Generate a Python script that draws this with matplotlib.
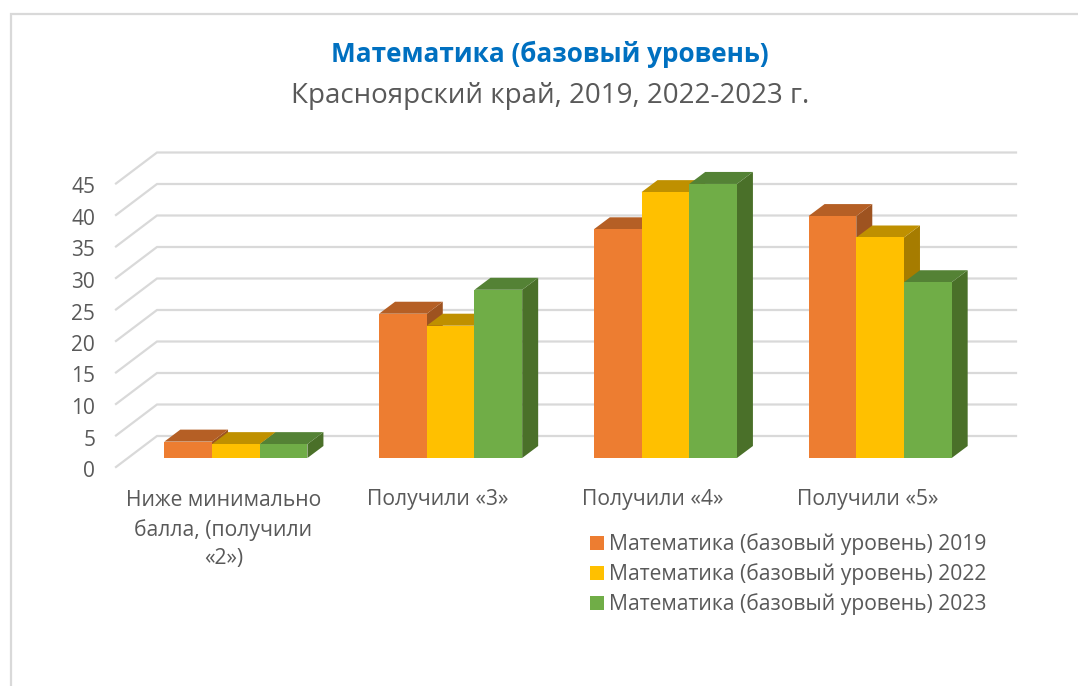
import matplotlib
matplotlib.use("Agg")
import matplotlib.pyplot as plt
from matplotlib.patches import Patch
from matplotlib.transforms import ScaledTranslation
import numpy as np

plt.rcParams['font.family'] = ['Open Sans', 'DejaVu Sans']

# data
categories = ["Ниже минимально\nбалла, (получили\n«2»)", "Получили «3»", "Получили «4»", "Получили «5»"]
series_names = ["Математика (базовый уровень) 2019",
                "Математика (базовый уровень) 2022",
                "Математика (базовый уровень) 2023"]
values_2019 = [2.6, 22.9, 36.3, 38.4]
values_2022 = [2.2, 21.0, 42.2, 35.0]
values_2023 = [2.2, 26.7, 43.5, 27.9]
y_ticks = [0, 5, 10, 15, 20, 25, 30, 35, 40, 45]

colors = ['#ED7D31', '#FFC000', '#70AD47']
top_colors = ['#B55F25', '#BF9000', '#548235']
side_colors = ['#9E5320', '#A67C00', '#4A7029']

W, H = 1078, 686
fig = plt.figure(figsize=(W / 100, H / 100), dpi=100)
fig.patch.set_facecolor('white')

# front plane of the fake 3d box, in pixels
left, right, y0, y45 = 116, 975, 467, 183.5
ax = fig.add_axes([left / W, 1 - y0 / H, (right - left) / W, (y0 - y45) / H])
ax.set_xlim(-0.5, 3.5)
ax.set_ylim(0, 45)

px_x = (right - left) / 4
px_y = (y0 - y45) / 45

# depth of the box and of the bars
box_dx, box_dy = 41 / px_x, 31 / px_y
shift_x, shift_y = 12.5 / px_x, 9 / px_y
depth_x, depth_y = 16 / px_x, 12 / px_y
bar_w = 47.7 / px_x

for t in y_ticks:
    ax.plot([-0.5, -0.5 + box_dx, 3.5 + box_dx], [t, t + box_dy, t + box_dy],
            color='#D9D9D9', lw=1.6, clip_on=False, zorder=1, solid_joinstyle='miter')

all_values = [values_2019, values_2022, values_2023]
for i in range(len(categories)):
    for s in range(3):
        v = all_values[s][i]
        x0 = i + shift_x + (s - 1.5) * bar_w
        x1 = x0 + bar_w
        b = shift_y
        top = b + v
        z = 2 + s * 0.1
        # side
        ax.fill([x1, x1 + depth_x, x1 + depth_x, x1],
                [b, b + depth_y, top + depth_y, top],
                color=side_colors[s], lw=0, clip_on=False, zorder=z)
        # top
        ax.fill([x0, x0 + depth_x, x1 + depth_x, x1],
                [top, top + depth_y, top + depth_y, top],
                color=top_colors[s], lw=0, clip_on=False, zorder=z)
        # front
        ax.bar(x0, v, width=bar_w, bottom=b, align='edge', color=colors[s],
               lw=0, clip_on=False, zorder=z + 0.01)

for sp in ax.spines.values():
    sp.set_visible(False)
ax.set_yticks(y_ticks)
ax.set_xticks(range(len(categories)))
ax.set_xticklabels(categories, linespacing=1.49)
ax.tick_params(axis='y', length=0, pad=15, labelsize=15, labelcolor='#595959')
ax.tick_params(axis='x', length=0, pad=16.2, labelsize=15.2, labelcolor='#595959')

# tick numbers sit a little lower than the gridline ends
down = ScaledTranslation(0, -2 / 100, fig.dpi_scale_trans)
for lab in ax.get_yticklabels():
    lab.set_transform(lab.get_transform() + down)

handles = [Patch(color=c, lw=0) for c in colors]
fig.legend(handles, series_names, loc='upper left',
           bbox_to_anchor=(586 / W, 1 - 529 / H), frameon=False, fontsize=15.2,
           labelcolor='#595959', handlelength=0.66, handleheight=0.66,
           handletextpad=0.24, labelspacing=0.39, borderpad=0.2, borderaxespad=0)

fig.text(550 / W, 1 - 54 / H, "Математика (базовый уровень)", ha='center', va='center',
         fontsize=18.8, fontweight='bold', color='#0070C0')
fig.text(550 / W, 1 - 96 / H, "Красноярский край, 2019, 2022-2023 г.", ha='center', va='center',
         fontsize=20, color='#595959')

# chart area border, only top and left show in the picture
fig.add_artist(plt.Line2D([11 / W, 11 / W, 1], [0, 1 - 14 / H, 1 - 14 / H],
                          color='#D9D9D9', lw=1.6, solid_joinstyle='miter'))

fig.savefig("out.png", dpi=100)
